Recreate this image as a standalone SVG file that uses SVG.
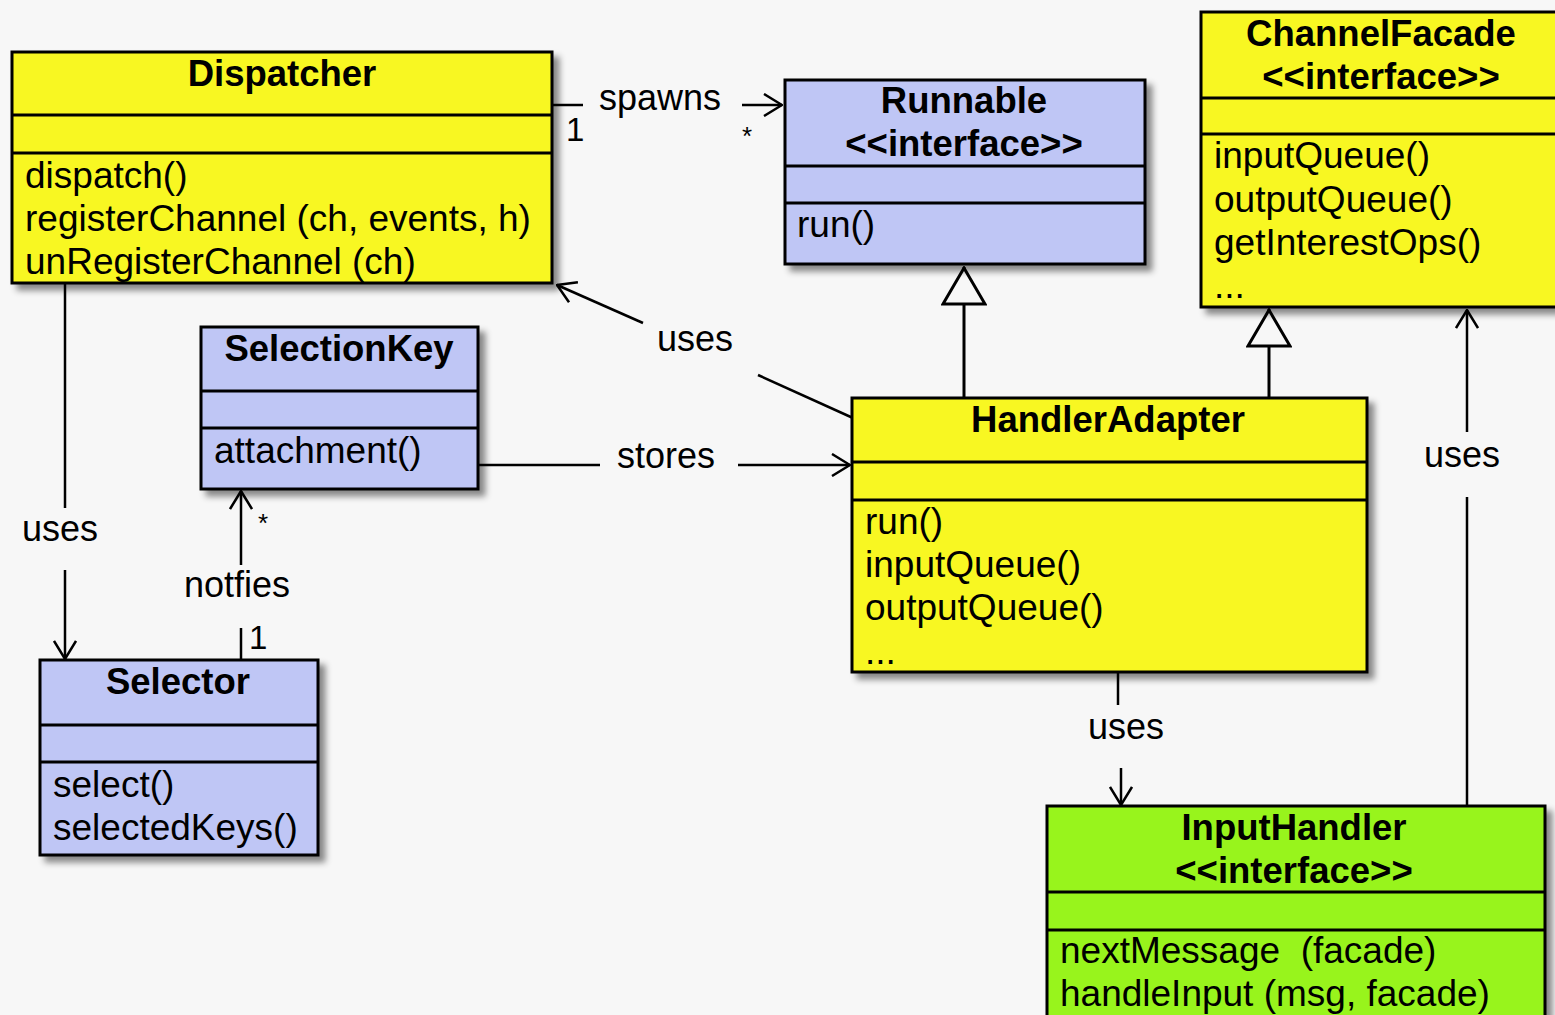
<svg xmlns="http://www.w3.org/2000/svg" width="1555" height="1015" viewBox="0 0 1555 1015">
  <style>
    .box { stroke: #000; stroke-width: 3; }
    .yellow { fill: #f8f721; }
    .blue { fill: #bfc6f5; }
    .green { fill: #98f41a; }
    .sep { stroke: #000; stroke-width: 3; fill: none; }
    .title { font-family: "Liberation Sans", Arial, sans-serif; font-size: 36.5px; font-weight: bold; fill: #000; text-anchor: middle; }
    .member { font-family: "Liberation Sans", Arial, sans-serif; font-size: 37px; fill: #000; }
    .label { font-family: "Liberation Sans", Arial, sans-serif; font-size: 36px; fill: #000; text-anchor: middle; }
    .mult { font-family: "Liberation Sans", Arial, sans-serif; font-size: 33px; fill: #000; }
    .star { font-family: "Liberation Sans", Arial, sans-serif; font-size: 26px; fill: #000; }
    .edge { stroke: #000; stroke-width: 2.5; fill: none; }
    .gen { stroke: #000; stroke-width: 3; fill: none; }
  </style>
  <defs>
    <filter id="shadow" x="-10%" y="-10%" width="130%" height="130%">
      <feDropShadow dx="6" dy="6" stdDeviation="3" flood-color="#000" flood-opacity="0.45"/>
    </filter>
    <marker id="open" viewBox="0 0 20 24" refX="19" refY="12" markerWidth="20" markerHeight="24" markerUnits="userSpaceOnUse" orient="auto">
      <path d="M1,1 L19,12 L1,23" fill="none" stroke="#000" stroke-width="2.5"/>
    </marker>
    <marker id="tri" viewBox="0 0 40 46" refX="39" refY="23" markerWidth="40" markerHeight="46" markerUnits="userSpaceOnUse" orient="auto">
      <path d="M2,2 L38,23 L2,44 Z" fill="#f7f7f7" stroke="#000" stroke-width="3"/>
    </marker>
  </defs>

  <rect width="1555" height="1015" fill="#f7f7f7"/>

  <!-- connectors -->
  <g id="connectors">
    <!-- Dispatcher spawns Runnable -->
    <g id="edge-spawns">
      <line class="edge" x1="552" y1="105" x2="583" y2="105"/>
      <line class="edge" x1="742" y1="105" x2="782" y2="105" marker-end="url(#open)"/>
      <text class="label" x="660" y="110">spawns</text>
      <text class="mult" x="566" y="141">1</text>
      <text class="star" x="742" y="145">*</text>
    </g>
    <!-- Dispatcher uses Selector -->
    <g id="edge-dispatcher-selector">
      <line class="edge" x1="65" y1="284" x2="65" y2="508"/>
      <line class="edge" x1="65" y1="570" x2="65" y2="659" marker-end="url(#open)"/>
      <text class="label" x="60" y="541">uses</text>
    </g>
    <!-- Selector notifies SelectionKey -->
    <g id="edge-notifies">
      <line class="edge" x1="241" y1="660" x2="241" y2="628"/>
      <line class="edge" x1="241" y1="565" x2="241" y2="491" marker-end="url(#open)"/>
      <text class="label" x="237" y="597">notfies</text>
      <text class="mult" x="249" y="649">1</text>
      <text class="star" x="258" y="532">*</text>
    </g>
    <!-- HandlerAdapter uses Dispatcher -->
    <g id="edge-adapter-dispatcher">
      <line class="edge" x1="853" y1="418" x2="758" y2="375"/>
      <line class="edge" x1="643" y1="323" x2="557" y2="285" marker-end="url(#open)"/>
      <text class="label" x="695" y="351">uses</text>
    </g>
    <!-- SelectionKey stores HandlerAdapter -->
    <g id="edge-stores">
      <line class="edge" x1="479" y1="465" x2="600" y2="465"/>
      <line class="edge" x1="738" y1="465" x2="850" y2="465" marker-end="url(#open)"/>
      <text class="label" x="666" y="468">stores</text>
    </g>
    <!-- HandlerAdapter implements Runnable -->
    <line id="edge-impl-runnable" class="gen" x1="964" y1="397" x2="964" y2="267" marker-end="url(#tri)"/>
    <!-- HandlerAdapter implements ChannelFacade -->
    <line id="edge-impl-facade" class="gen" x1="1269" y1="397" x2="1269" y2="309" marker-end="url(#tri)"/>
    <!-- HandlerAdapter uses InputHandler -->
    <g id="edge-adapter-input">
      <line class="edge" x1="1118" y1="673" x2="1118" y2="705"/>
      <line class="edge" x1="1121" y1="768" x2="1121" y2="805" marker-end="url(#open)"/>
      <text class="label" x="1126" y="739">uses</text>
    </g>
    <!-- InputHandler uses ChannelFacade -->
    <g id="edge-input-facade">
      <line class="edge" x1="1467" y1="805" x2="1467" y2="497"/>
      <line class="edge" x1="1467" y1="432" x2="1467" y2="310" marker-end="url(#open)"/>
      <text class="label" x="1462" y="467">uses</text>
    </g>
  </g>

  <!-- Dispatcher -->
  <g id="dispatcher">
    <rect class="box yellow" x="12" y="52" width="540" height="231" filter="url(#shadow)"/>
    <line class="sep" x1="12" y1="115" x2="552" y2="115"/>
    <line class="sep" x1="12" y1="153" x2="552" y2="153"/>
    <text class="title" x="282" y="86">Dispatcher</text>
    <text class="member" x="25" y="188">dispatch()</text>
    <text class="member" x="25" y="231">registerChannel (ch, events, h)</text>
    <text class="member" x="25" y="274">unRegisterChannel (ch)</text>
  </g>

  <!-- Runnable -->
  <g id="runnable">
    <rect class="box blue" x="785" y="80" width="360" height="184" filter="url(#shadow)"/>
    <line class="sep" x1="785" y1="166" x2="1145" y2="166"/>
    <line class="sep" x1="785" y1="203" x2="1145" y2="203"/>
    <text class="title" x="964" y="113">Runnable</text>
    <text class="title" x="964" y="156">&lt;&lt;interface&gt;&gt;</text>
    <text class="member" x="797" y="237">run()</text>
  </g>

  <!-- ChannelFacade -->
  <g id="channel-facade">
    <rect class="box yellow" x="1201" y="12" width="362" height="295" filter="url(#shadow)"/>
    <line class="sep" x1="1201" y1="98" x2="1563" y2="98"/>
    <line class="sep" x1="1201" y1="134" x2="1563" y2="134"/>
    <text class="title" x="1381" y="46">ChannelFacade</text>
    <text class="title" x="1381" y="89">&lt;&lt;interface&gt;&gt;</text>
    <text class="member" x="1214" y="168">inputQueue()</text>
    <text class="member" x="1214" y="212">outputQueue()</text>
    <text class="member" x="1214" y="255">getInterestOps()</text>
    <text class="member" x="1214" y="298">...</text>
  </g>

  <!-- SelectionKey -->
  <g id="selection-key">
    <rect class="box blue" x="201" y="327" width="277" height="162" filter="url(#shadow)"/>
    <line class="sep" x1="201" y1="391" x2="478" y2="391"/>
    <line class="sep" x1="201" y1="428" x2="478" y2="428"/>
    <text class="title" x="339" y="361">SelectionKey</text>
    <text class="member" x="214" y="463">attachment()</text>
  </g>

  <!-- Selector -->
  <g id="selector">
    <rect class="box blue" x="40" y="660" width="278" height="195" filter="url(#shadow)"/>
    <line class="sep" x1="40" y1="725" x2="318" y2="725"/>
    <line class="sep" x1="40" y1="762" x2="318" y2="762"/>
    <text class="title" x="178" y="694">Selector</text>
    <text class="member" x="53" y="797">select()</text>
    <text class="member" x="53" y="840">selectedKeys()</text>
  </g>

  <!-- HandlerAdapter -->
  <g id="handler-adapter">
    <rect class="box yellow" x="852" y="398" width="515" height="274" filter="url(#shadow)"/>
    <line class="sep" x1="852" y1="462" x2="1367" y2="462"/>
    <line class="sep" x1="852" y1="500" x2="1367" y2="500"/>
    <text class="title" x="1108" y="432">HandlerAdapter</text>
    <text class="member" x="865" y="534">run()</text>
    <text class="member" x="865" y="577">inputQueue()</text>
    <text class="member" x="865" y="620">outputQueue()</text>
    <text class="member" x="865" y="664">...</text>
  </g>

  <!-- InputHandler -->
  <g id="input-handler">
    <rect class="box green" x="1047" y="806" width="498" height="230" filter="url(#shadow)"/>
    <line class="sep" x1="1047" y1="892" x2="1545" y2="892"/>
    <line class="sep" x1="1047" y1="930" x2="1545" y2="930"/>
    <text class="title" x="1294" y="840">InputHandler</text>
    <text class="title" x="1294" y="883">&lt;&lt;interface&gt;&gt;</text>
    <text class="member" x="1060" y="963" xml:space="preserve">nextMessage  (facade)</text>
    <text class="member" x="1060" y="1006">handleInput (msg, facade)</text>
  </g>
</svg>
